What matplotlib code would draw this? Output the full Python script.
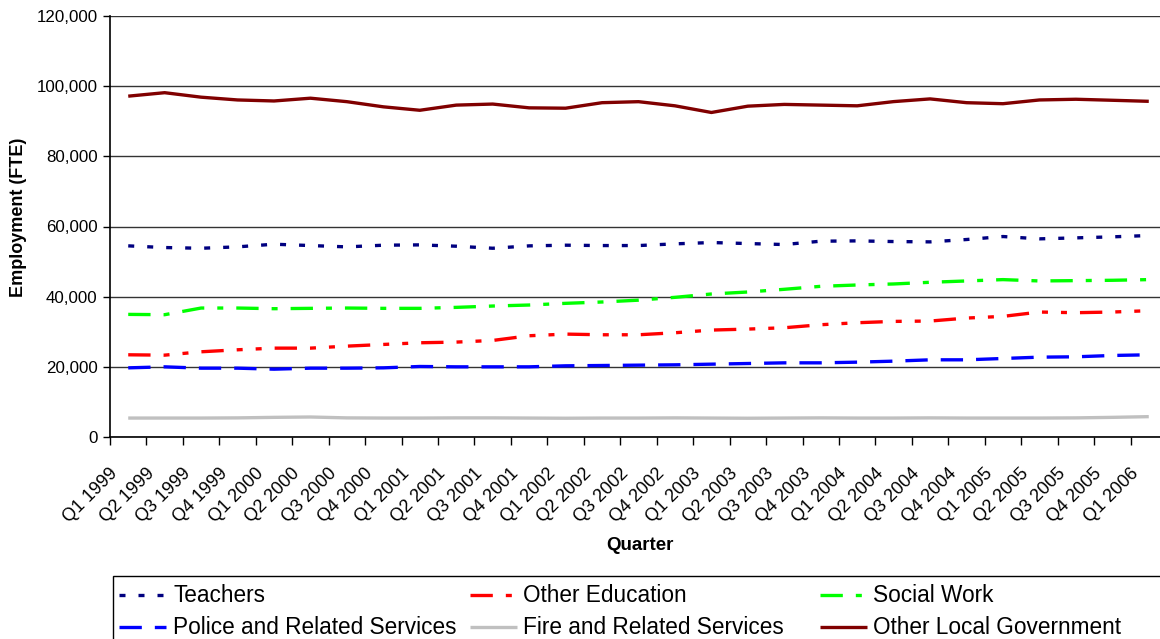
import matplotlib
matplotlib.use("Agg")
import matplotlib.pyplot as plt
from matplotlib.lines import Line2D
from matplotlib.patches import Rectangle
import matplotlib.transforms as mtransforms

plt.rcParams['font.family'] = ['Liberation Sans', 'DejaVu Sans']

quarters = ["Q1 1999", "Q2 1999", "Q3 1999", "Q4 1999",
            "Q1 2000", "Q2 2000", "Q3 2000", "Q4 2000",
            "Q1 2001", "Q2 2001", "Q3 2001", "Q4 2001",
            "Q1 2002", "Q2 2002", "Q3 2002", "Q4 2002",
            "Q1 2003", "Q2 2003", "Q3 2003", "Q4 2003",
            "Q1 2004", "Q2 2004", "Q3 2004", "Q4 2004",
            "Q1 2005", "Q2 2005", "Q3 2005", "Q4 2005",
            "Q1 2006"]

teachers = [54480, 54000, 53800, 54200, 54950, 54570, 54190, 54670, 54760, 54380,
            53800, 54480, 54670, 54570, 54570, 55050, 55430, 55140, 54860, 55810,
            55900, 55710, 55620, 56290, 57140, 56480, 56760, 57050, 57430]
other_education = [23430, 23330, 24290, 24860, 25330, 25330, 25900, 26380, 26860, 27050,
                   27520, 28860, 29330, 29140, 29140, 29710, 30480, 30760, 31140, 32000,
                   32570, 32950, 33050, 33900, 34380, 35620, 35430, 35620, 36000]
social_work = [34950, 34860, 36760, 36760, 36570, 36670, 36760, 36670, 36670, 36950,
               37330, 37620, 38100, 38480, 39000, 39810, 40760, 41330, 42100, 42950,
               43330, 43620, 44100, 44480, 44860, 44480, 44570, 44670, 44860]
police = [19710, 20000, 19620, 19620, 19330, 19620, 19620, 19710, 20100, 20000,
          20000, 20000, 20290, 20380, 20480, 20570, 20760, 20950, 21140, 21140,
          21330, 21620, 22000, 22000, 22380, 22760, 22860, 23240, 23430]
fire = [5400, 5400, 5400, 5450, 5600, 5700, 5450, 5400, 5400, 5450,
        5450, 5400, 5350, 5400, 5400, 5450, 5400, 5350, 5400, 5450,
        5400, 5400, 5450, 5400, 5400, 5400, 5450, 5600, 5800]
other_local_gov = [97150, 98140, 96860, 96070, 95780, 96570, 95580, 94110, 93130, 94600,
                   94900, 93820, 93720, 95290, 95580, 94400, 92500, 94300, 94800, 94600,
                   94400, 95600, 96370, 95290, 95000, 96070, 96270, 95980, 95680]

series_names = ["Teachers", "Other Education", "Social Work",
                "Police and Related Services", "Fire and Related Services",
                "Other Local Government"]
series_values = [teachers, other_education, social_work, police, fire, other_local_gov]

W, H = 1160, 639
fig = plt.figure(figsize=(W / 100, H / 100), dpi=100)
fig.patch.set_facecolor('white')

ax_l, ax_r, ax_t, ax_b = 110, 1167, 16, 437
ax = fig.add_axes([ax_l / W, 1 - ax_b / H, (ax_r - ax_l) / W, (ax_b - ax_t) / H])

LW = 2.4  # points
styles = [
    dict(color='#000080', lw=LW, dashes=(1.8, 3.9)),
    dict(color='#FF0000', lw=LW, dashes=(6.7, 3.9, 1.8, 3.9, 1.8, 3.9)),
    dict(color='#00FF00', lw=LW, dashes=(6.7, 3.9, 1.8, 3.9)),
    dict(color='#0000FF', lw=LW, dashes=(6.7, 3.9)),
    dict(color='#C0C0C0', lw=LW, linestyle='-'),
    dict(color='#800000', lw=LW, linestyle='-'),
]

x = list(range(len(quarters)))
for vals, st in zip(series_values, styles):
    ax.plot(x, vals, dash_capstyle='butt', solid_capstyle='butt', zorder=3, **st)

ax.set_xlim(-0.5, len(quarters) - 0.5)
ax.set_ylim(0, 120000)
ax.set_yticks(range(0, 120001, 20000))
ax.set_yticklabels([f"{v:,}" for v in range(0, 120001, 20000)], fontsize=12.2)
ax.yaxis.grid(True, color='#333333', lw=1.0, zorder=1)
ax.set_axisbelow(True)

ax.set_xticks([i - 0.5 for i in range(len(quarters) + 1)])
ax.set_xticklabels([])
ax.set_xticks(x, minor=True)
ax.set_xticklabels(quarters, minor=True, rotation=45, ha='right', va='top', fontsize=13)
ax.tick_params(axis='x', which='minor', length=0, pad=20)
ax.tick_params(axis='x', which='major', direction='out', length=6, width=1, color='black')
ax.tick_params(axis='y', direction='out', length=5, width=1, color='black', pad=4)
offset = mtransforms.ScaledTranslation(-7 / 100, 0, fig.dpi_scale_trans)
for lbl in ax.xaxis.get_minorticklabels():
    lbl.set_transform(lbl.get_transform() + offset)

for s in ['top', 'right']:
    ax.spines[s].set_visible(False)
ax.spines['left'].set_color('black')
ax.spines['bottom'].set_color('black')
ax.spines['left'].set_linewidth(1.2)
ax.spines['bottom'].set_linewidth(1.2)

fig.text(18.5 / W, 1 - 217 / H, "Employment (FTE)", rotation=90, ha='center', va='center',
         fontsize=13, fontweight='bold')
fig.text(639.5 / W, 1 - 546 / H, "Quarter", ha='center', va='center',
         fontsize=13.5, fontweight='bold')

# legend
fig.patches.append(Rectangle((113 / W, -10 / H), (1175 - 113) / W, (H + 10 - 576) / H,
                             transform=fig.transFigure, fill=False, edgecolor='black',
                             lw=1.0, clip_on=False))
col_handle_x = [119, 470, 820]
col_text_x = [173, 523, 873]
row_y = [595, 627]
for i, (name, st) in enumerate(zip(series_names, styles)):
    r, c = divmod(i, 3)
    hx0 = col_handle_x[c]
    hx1 = hx0 + 47
    yy = 1 - row_y[r] / H
    ln = Line2D([hx0 / W, hx1 / W], [yy, yy], transform=fig.transFigure,
                dash_capstyle='butt', solid_capstyle='butt', **st)
    fig.lines.append(ln)
    fig.text(col_text_x[c] / W, yy, name, ha='left', va='center', fontsize=16.3)

fig.savefig("out.png", dpi=100)
